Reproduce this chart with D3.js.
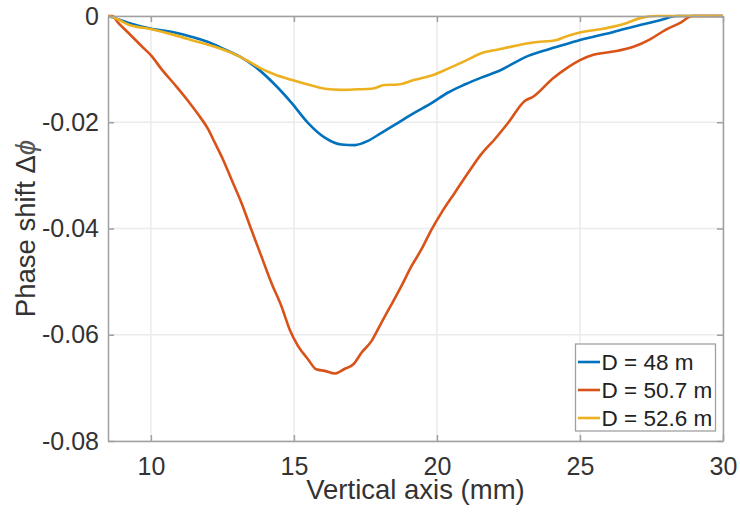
<!DOCTYPE html>
<html>
<head>
<meta charset="utf-8">
<script src="https://cdn.jsdelivr.net/npm/d3@7"></script>
<style>
  html, body { margin: 0; padding: 0; background: #fff; }
  svg { display: block; font-family: "Liberation Sans", Arial, Helvetica, sans-serif; }
</style>
</head>
<body>
<svg id="chart" width="740" height="515"></svg>
<script>
// ---- data ----
const seriesNames = ["D = 48 m", "D = 50.7 m", "D = 52.6 m"];
const seriesColors = ["#0072BD", "#D95319", "#EDB120"];

const blueX = [8.5, 8.75, 9.2, 10.02, 10.83, 11.41, 12.0, 12.58, 13.16, 13.75, 14.33, 14.91, 15.49, 16.08, 16.66, 17.13, 17.59, 18.06, 18.64, 19.22, 19.81, 20.39, 20.97, 21.55, 22.14, 23.19, 24.2, 25.0, 26.17, 27.1, 27.8, 28.4, 30];
const blueY = [0, -0.0004, -0.00125, -0.0024, -0.0031, -0.0039, -0.0049, -0.0063, -0.0078, -0.0100, -0.0129, -0.0163, -0.0201, -0.0229, -0.0242, -0.0243, -0.0235, -0.0220, -0.0201, -0.0182, -0.0164, -0.0144, -0.0129, -0.0116, -0.0104, -0.0075, -0.0058, -0.0045, -0.0030, -0.0017, -0.0008, 0, 0];

const redX = [8.5, 8.65, 8.85, 9.2, 9.67, 10.02, 10.37, 10.83, 11.3, 11.65, 12.0, 12.23, 12.52, 12.81, 13.16, 13.51, 13.86, 14.21, 14.56, 14.85, 15.14, 15.49, 15.78, 16.08, 16.43, 16.78, 17.07, 17.36, 17.71, 18.06, 18.41, 18.76, 19.11, 19.46, 19.81, 20.16, 20.62, 21.09, 21.55, 22.02, 22.49, 23.07, 23.36, 24.06, 24.54, 25.0, 25.47, 26.17, 26.87, 27.45, 27.99, 28.5, 28.93, 30];
const redY = [0, 0, -0.00125, -0.0031, -0.00565, -0.0075, -0.0100, -0.0129, -0.0160, -0.0185, -0.0213, -0.0238, -0.0270, -0.0307, -0.0351, -0.0402, -0.0452, -0.0502, -0.0546, -0.0590, -0.0621, -0.0646, -0.0665, -0.0668, -0.0673, -0.0664, -0.0656, -0.0634, -0.0612, -0.0577, -0.0543, -0.0508, -0.0471, -0.0439, -0.0402, -0.0370, -0.0333, -0.0295, -0.0260, -0.0232, -0.0201, -0.0160, -0.0152, -0.0117, -0.0098, -0.0083, -0.0073, -0.0067, -0.0058, -0.0044, -0.0026, -0.0013, 0, 0];

const yellowX = [8.5, 8.75, 9.2, 10.02, 10.83, 11.53, 12.23, 12.93, 13.4, 13.86, 14.33, 14.91, 15.49, 16.08, 16.66, 17.24, 17.71, 18.17, 18.64, 19.22, 19.81, 20.39, 20.97, 21.55, 22.14, 22.84, 23.36, 24.19, 24.54, 25.0, 25.7, 26.17, 26.64, 27.1, 27.68, 30];
const yellowY = [0, -0.0004, -0.0016, -0.0025, -0.0036, -0.0047, -0.0058, -0.0072, -0.0085, -0.0099, -0.0110, -0.0120, -0.0129, -0.0137, -0.0139, -0.0138, -0.0137, -0.0130, -0.0129, -0.0120, -0.0112, -0.0099, -0.0085, -0.0070, -0.0063, -0.0055, -0.0050, -0.0045, -0.0038, -0.0031, -0.0025, -0.0020, -0.0013, -0.0004, 0, 0];

const xTicks = [10, 15, 20, 25, 30];
const yTicks = [0, -0.02, -0.04, -0.06, -0.08];
const yTickLabels = ["0", "-0.02", "-0.04", "-0.06", "-0.08"];

// ---- layout ----
const svg = d3.select("#chart");
const L = 108, R = 723, T = 16, B = 441;
const x = d3.scaleLinear().domain([8.5, 30]).range([L, R]);
const y = d3.scaleLinear().domain([-0.08, 0]).range([B, T]);

const textColor = "#333333";
const axisColor = "#a0a0a0";
const gridColor = "#ebebeb";

// grid
svg.append("g").selectAll("line").data(xTicks).join("line")
  .attr("x1", d => x(d)).attr("x2", d => x(d)).attr("y1", T).attr("y2", B)
  .attr("stroke", gridColor).attr("stroke-width", 1.5);
svg.append("g").selectAll("line").data(yTicks).join("line")
  .attr("x1", L).attr("x2", R).attr("y1", d => y(d)).attr("y2", d => y(d))
  .attr("stroke", gridColor).attr("stroke-width", 1.5);

// curves
const series = [
  {xs: blueX, ys: blueY},
  {xs: redX, ys: redY},
  {xs: yellowX, ys: yellowY}
];
const line = d3.line().x(d => x(d[0])).y(d => y(d[1])).curve(d3.curveMonotoneX);
svg.append("clipPath").attr("id", "clip").append("rect")
  .attr("x", L).attr("y", T - 3).attr("width", R - L).attr("height", B - T + 3);
series.forEach((s, i) => {
  const pts = s.xs.map((v, k) => [v, s.ys[k]]);
  svg.append("path").datum(pts)
    .attr("d", line)
    .attr("fill", "none")
    .attr("stroke", seriesColors[i])
    .attr("stroke-width", 2.6)
    .attr("stroke-linejoin", "round")
    .attr("clip-path", "url(#clip)");
});

// axes (box with inward ticks)
const xAxisB = d3.axisBottom(x).tickValues(xTicks).tickSizeInner(-6).tickSizeOuter(0).tickPadding(16).tickFormat(d3.format("d"));
const xAxisT = d3.axisTop(x).tickValues(xTicks).tickSizeInner(-6).tickSizeOuter(0).tickFormat("");
const yAxisL = d3.axisLeft(y).tickValues(yTicks).tickSizeInner(-6).tickSizeOuter(0).tickPadding(9)
  .tickFormat((d, i) => yTickLabels[i]);
const yAxisR = d3.axisRight(y).tickValues(yTicks).tickSizeInner(-6).tickSizeOuter(0).tickFormat("");

function styleAxis(g) {
  g.select(".domain").attr("stroke", axisColor).attr("stroke-width", 1.5);
  g.selectAll(".tick line").attr("stroke", axisColor).attr("stroke-width", 1.5);
  g.selectAll(".tick text").attr("fill", textColor).style("font-size", "25px")
    .style("font-family", "'Liberation Sans', Arial, sans-serif");
}
svg.append("g").attr("transform", `translate(0,${B})`).call(xAxisB).call(styleAxis);
svg.append("g").attr("transform", `translate(0,${T})`).call(xAxisT).call(styleAxis);
svg.append("g").attr("transform", `translate(${L},0)`).call(yAxisL).call(styleAxis);
svg.append("g").attr("transform", `translate(${R},0)`).call(yAxisR).call(styleAxis);

// axis labels
svg.append("text")
  .attr("x", (L + R) / 2).attr("y", 499)
  .attr("text-anchor", "middle")
  .attr("fill", textColor).style("font-size", "27.5px")
  .text("Vertical axis (mm)");

const yl = svg.append("text")
  .attr("transform", `translate(35,${(T + B) / 2}) rotate(-90)`)
  .attr("text-anchor", "middle")
  .attr("fill", textColor).style("font-size", "27.5px");
yl.append("tspan").text("Phase shift \u0394");
yl.append("tspan").attr("font-style", "italic").attr("fill", "#555").text("\u03D5");

// legend
const lg = svg.append("g");
lg.append("rect").attr("x", 575.5).attr("y", 344).attr("width", 140).attr("height", 87)
  .attr("fill", "#fff").attr("stroke", axisColor).attr("stroke-width", 1.3);
const rowY = [362, 390, 418];
seriesNames.forEach((name, i) => {
  lg.append("line").attr("x1", 578).attr("x2", 600).attr("y1", rowY[i]).attr("y2", rowY[i])
    .attr("stroke", seriesColors[i]).attr("stroke-width", 2.6);
  lg.append("text").attr("x", 601.5).attr("y", rowY[i]).attr("dy", "0.36em")
    .attr("fill", "#222").style("font-size", "22.5px").text(name);
});
</script>
</body>
</html>
